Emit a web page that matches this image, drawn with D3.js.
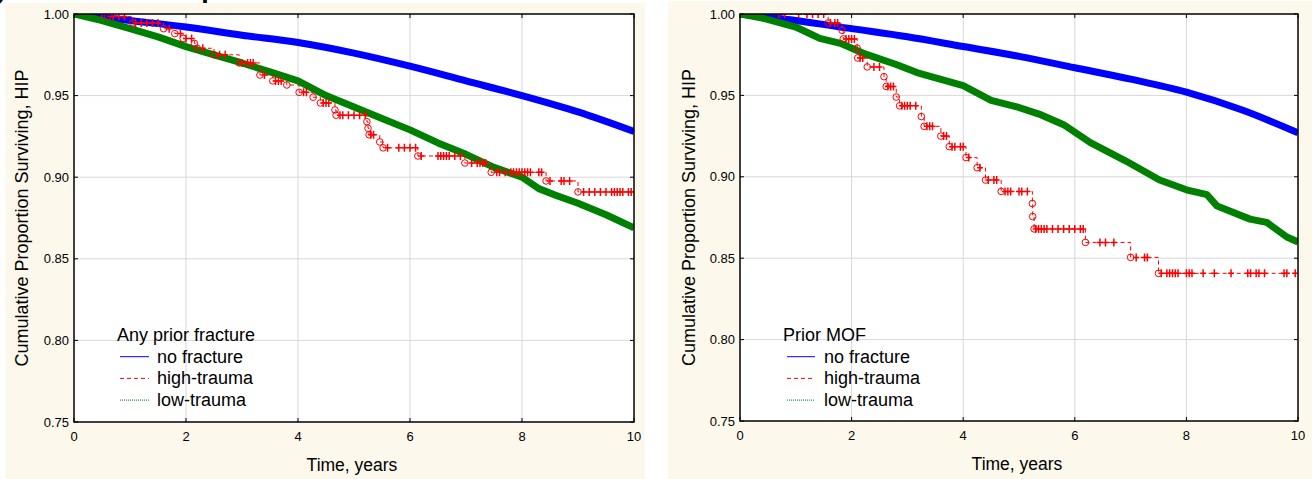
<!DOCTYPE html>
<html>
<head>
<meta charset="utf-8">
<script src="https://cdn.jsdelivr.net/npm/d3@7"></script>
<style>
  body { margin: 0; background: #fff; }
  svg { display: block; font-family: "Liberation Sans", Arial, sans-serif; }
</style>
</head>
<body>
<svg id="chart" width="1312" height="479"></svg>
<script>
// ---- data ----
var xTicks = [0, 2, 4, 6, 8, 10]
var yTicks = [0.75, 0.80, 0.85, 0.90, 0.95, 1.00]
var legendLabels = ['no fracture', 'high-trauma', 'low-trauma']

// left panel: any prior fracture
var anyNoFx = [[0, 1], [1, 0.996], [2, 0.992], [3, 0.987], [4, 0.9825], [5, 0.976], [6, 0.968], [7, 0.959], [8, 0.950], [9, 0.940], [10, 0.928]]
var anyLow = [[0, 1], [0.5, 0.996], [1, 0.991], [1.5, 0.986], [2, 0.980], [2.5, 0.975], [3, 0.970], [3.5, 0.9645], [4, 0.959], [4.5, 0.950], [5, 0.943], [5.5, 0.936], [6, 0.929], [6.5, 0.921], [7, 0.914], [7.5, 0.906], [8, 0.900], [8.3, 0.893], [8.6, 0.889], [9, 0.884], [9.5, 0.877], [10, 0.869]]
var anyHighEvents = [[0.6, 0.9985], [1.05, 0.9945], [1.6, 0.991], [1.8, 0.988], [1.95, 0.985], [2.15, 0.982], [2.2, 0.979], [2.5, 0.975], [2.95, 0.970], [3.32, 0.9626], [3.55, 0.959], [3.8, 0.9565], [4.02, 0.952], [4.27, 0.949], [4.4, 0.9455], [4.66, 0.9412], [4.68, 0.938], [5.23, 0.934], [5.25, 0.930], [5.27, 0.926], [5.46, 0.9216], [5.52, 0.918], [6.14, 0.913], [6.98, 0.9087], [7.45, 0.903], [8.43, 0.8977], [9.0, 0.891]]
var anyHighCensor = [0.5, 0.7, 0.8, 0.9, 1.1, 1.2, 1.3, 1.4, 1.5, 1.7, 1.9, 2.0, 2.1, 2.3, 2.6, 2.7, 3.0, 3.1, 3.15, 3.2, 3.4, 3.6, 3.65, 3.7, 4.1, 4.15, 4.45, 4.5, 4.55, 4.75, 4.8, 4.9, 5.0, 5.1, 5.2, 5.3, 5.35, 5.6, 5.8, 5.9, 6.0, 6.1, 6.2, 6.5, 6.55, 6.6, 6.65, 6.7, 6.8, 6.9, 7.1, 7.2, 7.25, 7.3, 7.35, 7.55, 7.6, 7.7, 7.8, 7.85, 7.9, 7.95, 8.0, 8.05, 8.1, 8.15, 8.3, 8.35, 8.5, 8.7, 8.75, 8.85, 9.1, 9.2, 9.3, 9.4, 9.5, 9.6, 9.65, 9.7, 9.75, 9.8, 9.9, 9.95]

// right panel: prior MOF
var mofNoFx = [[0, 1], [1, 0.996], [2, 0.991], [3, 0.986], [4, 0.980], [5, 0.974], [6, 0.967], [7, 0.960], [8, 0.952], [9, 0.941], [10, 0.927]]
var mofLow = [[0, 1], [0.4, 0.9975], [1, 0.992], [1.43, 0.985], [1.8, 0.982], [2.2, 0.976], [2.8, 0.969], [3.17, 0.964], [4, 0.956], [4.5, 0.947], [4.96, 0.943], [5.4, 0.938], [5.8, 0.932], [6.28, 0.921], [6.9, 0.910], [7.52, 0.898], [8.0, 0.892], [8.37, 0.889], [8.55, 0.882], [9.14, 0.874], [9.44, 0.872], [9.8, 0.863], [10, 0.860]]
var mofHighEvents = [[1.58, 0.9945], [1.83, 0.990], [1.85, 0.9847], [2.1, 0.979], [2.11, 0.973], [2.28, 0.9675], [2.58, 0.9615], [2.62, 0.9555], [2.8, 0.949], [2.86, 0.9436], [3.25, 0.937], [3.3, 0.931], [3.6, 0.925], [3.75, 0.9185], [4.05, 0.9118], [4.25, 0.9056], [4.4, 0.898], [4.68, 0.891], [5.24, 0.8836], [5.245, 0.8756], [5.27, 0.868], [6.19, 0.8597], [7.0, 0.8505], [7.5, 0.8407]]
var mofHighCensor = [0.7, 0.8, 1.05, 1.2, 1.3, 1.4, 1.5, 1.62, 1.7, 1.75, 1.9, 1.95, 2.0, 2.05, 2.15, 2.2, 2.4, 2.5, 2.65, 2.7, 2.75, 2.9, 2.95, 3.0, 3.05, 3.15, 3.35, 3.4, 3.45, 3.65, 3.7, 3.8, 3.85, 3.95, 4.0, 4.1, 4.3, 4.45, 4.55, 4.6, 4.75, 4.8, 4.85, 5.0, 5.05, 5.15, 5.3, 5.35, 5.4, 5.45, 5.5, 5.6, 5.7, 5.8, 5.9, 6.0, 6.1, 6.15, 6.45, 6.55, 6.7, 7.1, 7.25, 7.3, 7.55, 7.65, 7.7, 7.75, 7.8, 7.85, 8.0, 8.05, 8.1, 8.3, 8.5, 8.8, 9.1, 9.15, 9.25, 9.3, 9.4, 9.75, 9.8, 9.95]

var svg = d3.select('#chart')

// title line cropped off at the top of the picture: only descenders show
svg.append('text').attr('x', 5).attr('y', 0).attr('text-anchor', 'end')
  .style('font-family', '"Liberation Serif", serif').style('font-weight', 'bold').style('font-size', '26px').text('a)')
svg.append('text').attr('x', 216).attr('y', 0).attr('text-anchor', 'end')
  .style('font-family', '"Liberation Serif", serif').style('font-weight', 'bold').style('font-size', '26px').text('Hip')

function survAt(events, t) {
  var s = 1
  events.forEach(function(e) { if (e[0] <= t) s = e[1] })
  return s
}

function drawPanel(cfg) {
  var g = svg.append('g')
  g.append('rect').attr('x', cfg.bg[0]).attr('y', cfg.bg[1]).attr('width', cfg.bg[2]).attr('height', cfg.bg[3]).attr('fill', '#fdf8ec')

  var x = d3.scaleLinear().domain([0, 10]).range([cfg.left, cfg.right])
  var y = d3.scaleLinear().domain([0.75, 1.0]).range([cfg.bottom, cfg.top])

  g.append('rect').attr('x', cfg.left).attr('y', cfg.top)
    .attr('width', cfg.right - cfg.left).attr('height', cfg.bottom - cfg.top).attr('fill', '#fff')

  // grid
  g.selectAll('.vg').data(xTicks.slice(1, -1)).enter().append('line')
    .attr('x1', (d) => x(d)).attr('x2', (d) => x(d)).attr('y1', cfg.top).attr('y2', cfg.bottom)
    .attr('stroke', '#d8d8d8').attr('stroke-width', 1)
  g.selectAll('.hg').data(yTicks.slice(1, -1)).enter().append('line')
    .attr('y1', (d) => y(d)).attr('y2', (d) => y(d)).attr('x1', cfg.left).attr('x2', cfg.right)
    .attr('stroke', '#d8d8d8').attr('stroke-width', 1)

  var clipId = 'clip' + cfg.id
  g.append('clipPath').attr('id', clipId).append('rect')
    .attr('x', cfg.left).attr('y', cfg.top).attr('width', cfg.right - cfg.left).attr('height', cfg.bottom - cfg.top)
  var plot = g.append('g').attr('clip-path', `url(#${clipId})`)

  var line = d3.line().curve(d3.curveMonotoneX).x((d) => x(d[0])).y((d) => y(d[1]))
  var jag = d3.line().x((d) => x(d[0])).y((d) => y(d[1]))
  plot.append('path').datum(cfg.noFx).attr('d', line)
    .attr('fill', 'none').attr('stroke', '#0000ff').attr('stroke-width', 7)
  plot.append('path').datum(cfg.low).attr('d', jag)
    .attr('fill', 'none').attr('stroke', '#008000').attr('stroke-width', 7).attr('stroke-linejoin', 'round')

  // high-trauma: dashed step curve + event circles + censor crosses
  var stepPts = [[0, 1]].concat(cfg.highEvents).concat([[10, cfg.highEvents[cfg.highEvents.length - 1][1]]])
  var stepLine = d3.line().curve(d3.curveStepAfter).x((d) => x(d[0])).y((d) => y(d[1]))
  plot.append('path').datum(stepPts).attr('d', stepLine)
    .attr('fill', 'none').attr('stroke', '#ff0000').attr('stroke-width', 1).attr('stroke-dasharray', '4,3')
  plot.selectAll('.ev').data(cfg.highEvents).enter().append('circle')
    .attr('cx', (d) => x(d[0])).attr('cy', (d) => y(d[1])).attr('r', 3.3)
    .attr('fill', 'none').attr('stroke', '#ff0000').attr('stroke-width', 1)
  plot.selectAll('.cs').data(cfg.highCensor).enter().append('path')
    .attr('d', function(t) {
      var cx = x(t), cy = y(survAt(cfg.highEvents, t))
      return `M${cx - 3},${cy}H${cx + 3}M${cx},${cy - 4}V${cy + 4}`
    })
    .attr('stroke', '#ff0000').attr('stroke-width', 1.5).attr('fill', 'none')

  // frame with inward ticks
  g.append('rect').attr('x', cfg.left).attr('y', cfg.top)
    .attr('width', cfg.right - cfg.left).attr('height', cfg.bottom - cfg.top)
    .attr('fill', 'none').attr('stroke', '#000').attr('stroke-width', 1.5)
  xTicks.forEach(function(t) {
    g.append('line').attr('x1', x(t)).attr('x2', x(t)).attr('y1', cfg.bottom).attr('y2', cfg.bottom - 4).attr('stroke', '#000')
    g.append('line').attr('x1', x(t)).attr('x2', x(t)).attr('y1', cfg.top).attr('y2', cfg.top + 4).attr('stroke', '#000')
  })
  yTicks.forEach(function(t) {
    g.append('line').attr('y1', y(t)).attr('y2', y(t)).attr('x1', cfg.left).attr('x2', cfg.left + 4).attr('stroke', '#000')
    g.append('line').attr('y1', y(t)).attr('y2', y(t)).attr('x1', cfg.right).attr('x2', cfg.right - 4).attr('stroke', '#000')
  })

  // tick labels
  g.selectAll('.xl').data(xTicks).enter().append('text')
    .attr('x', (d) => x(d)).attr('y', cfg.bottom + 19).attr('text-anchor', 'middle')
    .style('font-size', '13px').text((d) => d)
  g.selectAll('.yl').data(yTicks).enter().append('text')
    .attr('x', cfg.left - 5).attr('y', (d) => y(d) + 4.5).attr('text-anchor', 'end')
    .style('font-size', '13px').text((d) => d3.format('.2f')(d))

  // axis titles
  g.append('text').attr('x', (cfg.left + cfg.right) / 2 - 2).attr('y', cfg.bottom + 49).attr('text-anchor', 'middle')
    .style('font-size', '17.5px').text('Time, years')
  g.append('text').attr('transform', `translate(${cfg.yLabelX},${(cfg.top + cfg.bottom) / 2}) rotate(-90)`)
    .attr('text-anchor', 'middle').style('font-size', '18px').text('Cumulative Proportion Surviving, HIP')

  // legend
  var lg = g.append('g').attr('transform', `translate(${cfg.legend[0]},${cfg.legend[1]})`)
  lg.append('text').attr('x', 0).attr('y', 0).style('font-size', '18px').text(cfg.legendTitle)
  var styles = [
    { c: '#0000ff', dash: null },
    { c: '#ff0000', dash: '4,3' },
    { c: '#008000', dash: '1,1' }
  ]
  legendLabels.forEach(function(lab, i) {
    var ly = 21.7 * (i + 1)
    lg.append('line').attr('x1', cfg.legendLine[0]).attr('x2', cfg.legendLine[1]).attr('y1', ly - 6).attr('y2', ly - 6)
      .attr('stroke', styles[i].c).attr('stroke-width', 1).attr('stroke-dasharray', styles[i].dash)
    lg.append('text').attr('x', cfg.legendLine[2]).attr('y', ly).style('font-size', '18px').text(lab)
  })
}

drawPanel({
  id: 'a', bg: [5, 3, 640, 476], left: 74, right: 634, top: 14, bottom: 422, yLabelX: 28,
  noFx: anyNoFx, low: anyLow, highEvents: anyHighEvents, highCensor: anyHighCensor,
  legend: [117, 341], legendLine: [3, 32, 40], legendTitle: 'Any prior fracture'
})
drawPanel({
  id: 'b', bg: [668, 1, 644, 478], left: 740, right: 1298, top: 14, bottom: 421, yLabelX: 695,
  noFx: mofNoFx, low: mofLow, highEvents: mofHighEvents, highCensor: mofHighCensor,
  legend: [783, 341], legendLine: [4, 32, 41], legendTitle: 'Prior MOF'
})
</script>
</body>
</html>
